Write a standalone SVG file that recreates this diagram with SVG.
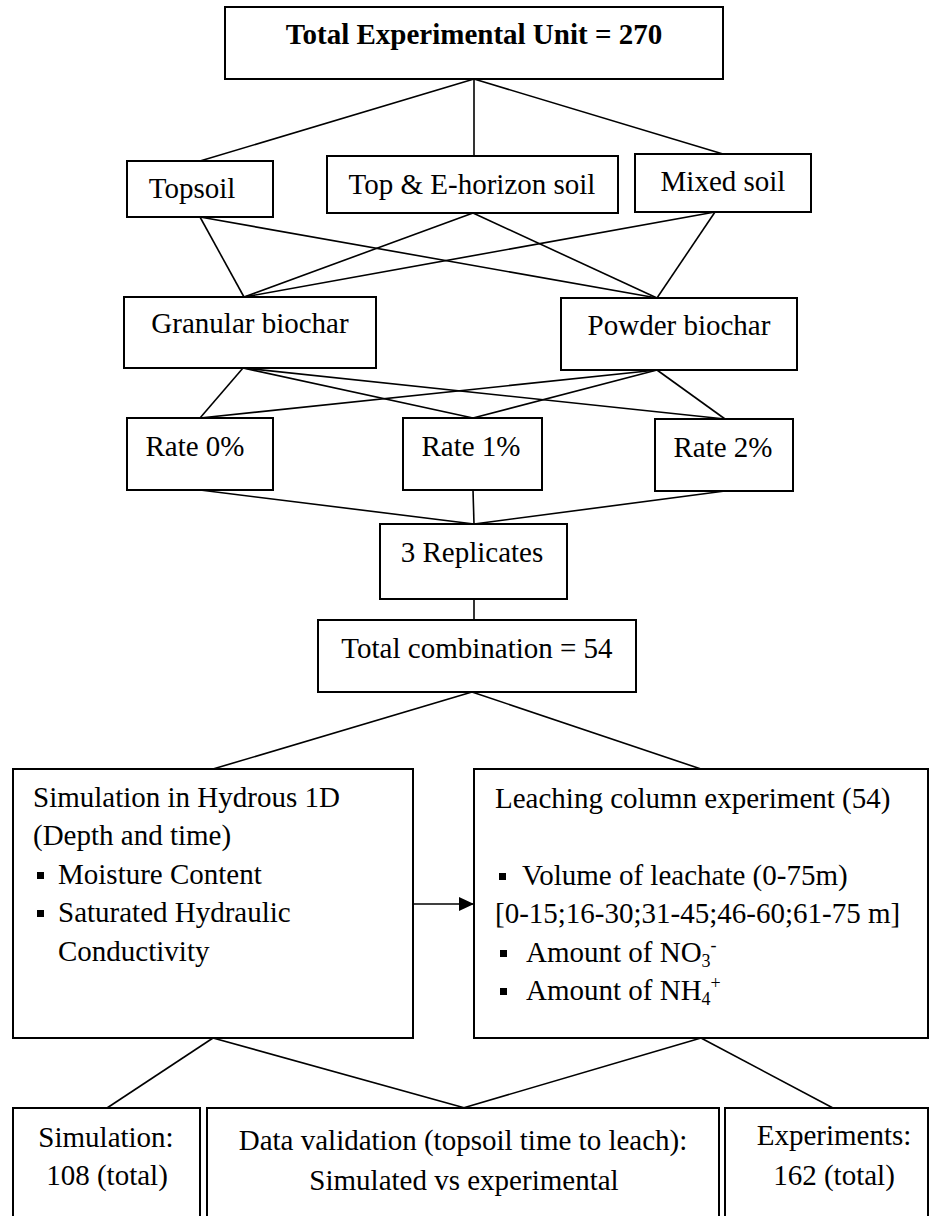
<svg xmlns="http://www.w3.org/2000/svg" width="930" height="1216" viewBox="0 0 930 1216">
<style>
.box{fill:#fff;stroke:#000;stroke-width:2}
.t{font-family:"Liberation Serif","Times New Roman",serif;font-size:29px;fill:#000}
.c{text-anchor:middle}
.b{font-weight:bold}
.conn line{stroke:#000;stroke-width:1.6}
.sub{font-size:18px}
</style>
<defs>
<marker id="arr" markerUnits="userSpaceOnUse" markerWidth="16" markerHeight="14" refX="15" refY="7" orient="auto">
<path d="M0,0 L15,7 L0,14 z" fill="#000"/>
</marker>
</defs>
<rect width="930" height="1216" fill="#fff"/>
<g id="connectors" class="conn">
<line x1="474" y1="79" x2="200" y2="161"/>
<line x1="474" y1="79" x2="474" y2="156"/>
<line x1="474" y1="79" x2="723" y2="154"/>
<line x1="200" y1="217" x2="244" y2="297"/>
<line x1="200" y1="217" x2="657" y2="298"/>
<line x1="473" y1="213" x2="244" y2="297"/>
<line x1="473" y1="213" x2="657" y2="298"/>
<line x1="715" y1="212" x2="244" y2="297"/>
<line x1="715" y1="212" x2="657" y2="298"/>
<line x1="243" y1="368" x2="200" y2="418"/>
<line x1="243" y1="368" x2="473" y2="418"/>
<line x1="243" y1="368" x2="725" y2="419"/>
<line x1="657" y1="370" x2="200" y2="418"/>
<line x1="657" y1="370" x2="473" y2="418"/>
<line x1="657" y1="370" x2="725" y2="419"/>
<line x1="200" y1="490" x2="474" y2="524"/>
<line x1="473" y1="490" x2="474" y2="524"/>
<line x1="725" y1="491" x2="474" y2="524"/>
<line x1="474" y1="599" x2="474" y2="620"/>
<line x1="472" y1="692" x2="213" y2="769"/>
<line x1="472" y1="692" x2="701" y2="769"/>
<line x1="413" y1="904" x2="474" y2="904" marker-end="url(#arr)"/>
<line x1="213" y1="1038" x2="107" y2="1108"/>
<line x1="213" y1="1038" x2="465" y2="1108"/>
<line x1="701" y1="1038" x2="463" y2="1108"/>
<line x1="701" y1="1038" x2="833" y2="1108"/>
</g>
<g id="total-unit">
<rect class="box" x="225" y="7" width="498" height="72"/>
<text class="t c b" x="474" y="44">Total Experimental Unit = 270</text>
</g>
<g id="topsoil">
<rect class="box" x="127" y="161" width="146" height="56"/>
<text class="t c" x="192" y="198">Topsoil</text>
</g>
<g id="top-e-horizon">
<rect class="box" x="327" y="156" width="291" height="57"/>
<text class="t c" x="472" y="194">Top &amp; E-horizon soil</text>
</g>
<g id="mixed-soil">
<rect class="box" x="635" y="154" width="176" height="58"/>
<text class="t c" x="723" y="191">Mixed soil</text>
</g>
<g id="granular">
<rect class="box" x="124" y="297" width="252" height="71"/>
<text class="t c" x="250" y="333">Granular biochar</text>
</g>
<g id="powder">
<rect class="box" x="561" y="298" width="236" height="72"/>
<text class="t c" x="679" y="335">Powder biochar</text>
</g>
<g id="rate0">
<rect class="box" x="127" y="418" width="146" height="72"/>
<text class="t c" x="195" y="456">Rate 0%</text>
</g>
<g id="rate1">
<rect class="box" x="403" y="418" width="139" height="72"/>
<text class="t c" x="471" y="456">Rate 1%</text>
</g>
<g id="rate2">
<rect class="box" x="655" y="419" width="138" height="72"/>
<text class="t c" x="723" y="457">Rate 2%</text>
</g>
<g id="replicates">
<rect class="box" x="380" y="524" width="187" height="75"/>
<text class="t c" x="472" y="562">3 Replicates</text>
</g>
<g id="total-combination">
<rect class="box" x="318" y="620" width="318" height="72"/>
<text class="t c" x="477" y="658">Total combination = 54</text>
</g>
<g id="simulation-hydrus">
<rect class="box" x="13" y="769" width="400" height="269"/>
<text class="t" x="33" y="807">Simulation in Hydrous 1D</text>
<text class="t" x="33" y="845">(Depth and time)</text>
<rect x="37" y="872" width="7" height="7" fill="#000"/>
<text class="t" x="58" y="884">Moisture Content</text>
<rect x="37" y="910" width="7" height="7" fill="#000"/>
<text class="t" x="58" y="922">Saturated Hydraulic</text>
<text class="t" x="58" y="961">Conductivity</text>
</g>
<g id="leaching-column">
<rect class="box" x="474" y="769" width="454" height="269"/>
<text class="t" x="495" y="808">Leaching column experiment (54)</text>
<rect x="499" y="873" width="7" height="7" fill="#000"/>
<text class="t" x="522" y="885">Volume of leachate (0-75m)</text>
<text class="t" x="495" y="923">[0-15;16-30;31-45;46-60;61-75 m]</text>
<rect x="500" y="950" width="7" height="7" fill="#000"/>
<text class="t" x="526" y="962">Amount of NO<tspan class="sub" dy="5">3</tspan><tspan class="sub" dy="-16">-</tspan></text>
<rect x="500" y="988" width="7" height="7" fill="#000"/>
<text class="t" x="526" y="1000">Amount of NH<tspan class="sub" dy="5">4</tspan><tspan class="sub" dy="-16">+</tspan></text>
</g>
<g id="simulation-total">
<rect class="box" x="13" y="1108" width="187" height="130"/>
<text class="t c" x="106" y="1147">Simulation:</text>
<text class="t c" x="107" y="1185">108 (total)</text>
</g>
<g id="data-validation">
<rect class="box" x="207" y="1108" width="512" height="130"/>
<text class="t c" x="463" y="1150">Data validation (topsoil time to leach):</text>
<text class="t c" x="464" y="1190">Simulated vs experimental</text>
</g>
<g id="experiments-total">
<rect class="box" x="725" y="1108" width="203" height="130"/>
<text class="t c" x="834" y="1145">Experiments:</text>
<text class="t c" x="834" y="1185">162 (total)</text>
</g>
</svg>
